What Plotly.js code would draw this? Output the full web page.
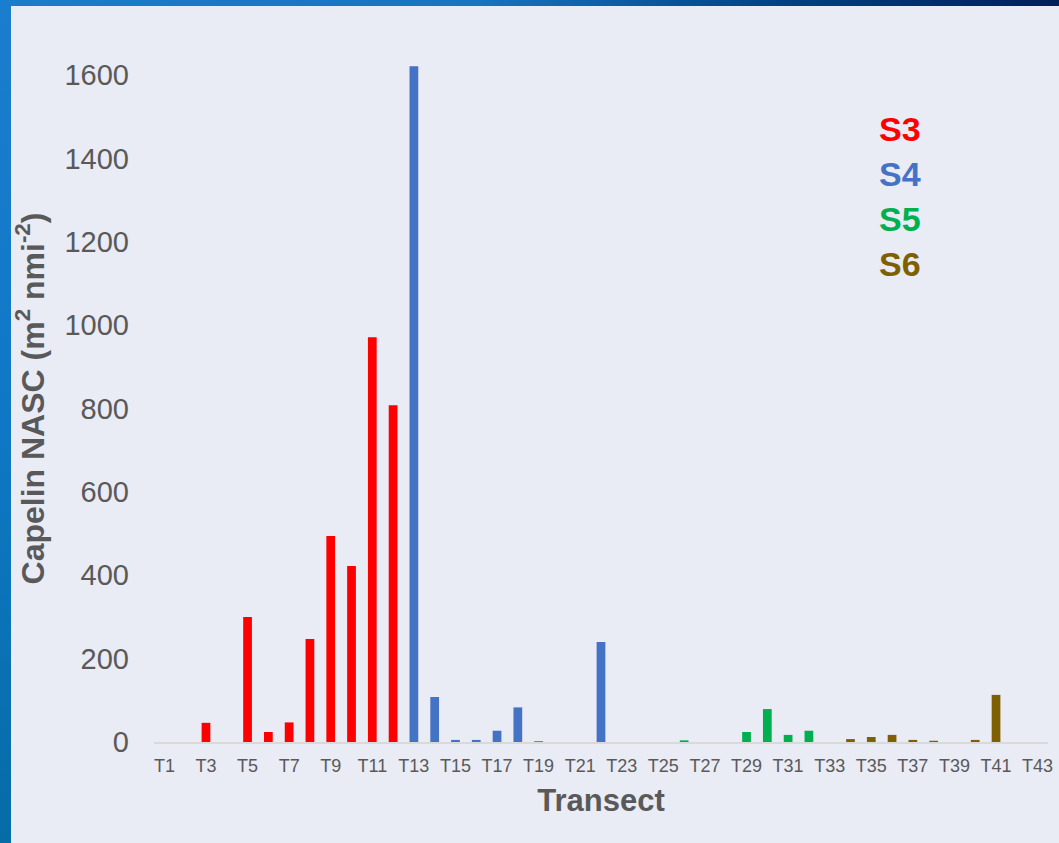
<!DOCTYPE html>
<html>
<head>
<meta charset="utf-8">
<script src="https://cdn.plot.ly/plotly-3.0.1.min.js"></script>
<style>
  html, body { margin: 0; padding: 0; }
  #wrap { position: relative; width: 1059px; height: 843px; background: #E9EBF5; overflow: hidden; }
  #topband { position: absolute; left: 0; top: 0; width: 1059px; height: 6px;
    background: linear-gradient(to right, #1B7CCC 0%, #1674C2 45%, #00407F 75%, #001F5B 100%); }
  #leftband { position: absolute; left: 0; top: 0; width: 11px; height: 843px;
    background: linear-gradient(to bottom, #1B7DCD 0%, #0E78C6 50%, #066CA6 100%); }
  #chart { position: absolute; left: 0; top: 0; width: 1059px; height: 843px; }
</style>
</head>
<body>
<div id="wrap">
  <div id="topband"></div>
  <div id="leftband"></div>
  <div id="chart"></div>
</div>
<script>
// Transect categories
const s3Transects = ["T1","T2","T3","T4","T5","T6","T7","T8","T9","T10","T11","T12"];
const s3Values    = [0, 0, 46, 0, 300, 24, 47, 247, 494, 422, 971, 808];

const s4Transects = ["T13","T14","T15","T16","T17","T18","T19","T20","T21","T22"];
const s4Values    = [1621, 108, 5, 5, 27, 83, 2, 0, 0, 240];

const s5Transects = ["T23","T24","T25","T26","T27","T28","T29","T30","T31","T32"];
const s5Values    = [0, 0, 0, 4, 0, 0, 24, 79, 17, 27];

const s6Transects = ["T33","T34","T35","T36","T37","T38","T39","T40","T41","T42","T43"];
const s6Values    = [0, 7, 12, 17, 5, 3, 0, 5, 113, 0, 0];

const allTransects = s3Transects.concat(s4Transects, s5Transects, s6Transects);
const tickLabels = ["T1","T3","T5","T7","T9","T11","T13","T15","T17","T19","T21","T23","T25","T27","T29","T31","T33","T35","T37","T39","T41","T43"];
const yTicks = [0, 200, 400, 600, 800, 1000, 1200, 1400, 1600];

const seriesNames  = ["S3", "S4", "S5", "S6"];
const seriesColors = ["#FF0000", "#4472C4", "#00B050", "#7F6000"];
const seriesX = [s3Transects, s4Transects, s5Transects, s6Transects];
const seriesY = [s3Values, s4Values, s5Values, s6Values];

const FONT = "Liberation Sans, Arial, sans-serif";

const traces = seriesNames.map((name, i) => ({
  type: "bar",
  name: name,
  x: seriesX[i],
  y: seriesY[i],
  width: 0.42,
  marker: { color: seriesColors[i], line: { width: 0 } },
  showlegend: false,
  hoverinfo: "x+y+name"
}));

const annotations = seriesNames.map((name, i) => ({
  text: "<b>" + name + "</b>",
  xref: "paper", yref: "paper",
  x: 0.834, y: 1 - (74 + 45 * i) / 687,
  xanchor: "center", yanchor: "middle",
  showarrow: false,
  font: { family: FONT, size: 34, color: seriesColors[i] }
}));

const layout = {
  width: 1059, height: 843,
  margin: { l: 153.5, r: 11, t: 55, b: 101, pad: 0 },
  paper_bgcolor: "rgba(0,0,0,0)",
  plot_bgcolor: "rgba(0,0,0,0)",
  barmode: "overlay",
  font: { family: FONT, color: "#595959" },
  xaxis: {
    type: "category",
    categoryorder: "array",
    categoryarray: allTransects,
    range: [-0.5, 42.5],
    tickmode: "array",
    tickvals: tickLabels,
    ticktext: tickLabels,
    tickfont: { family: FONT, size: 18, color: "#595959" },
    ticks: "",
    ticklabelstandoff: 6,
    showgrid: false,
    zeroline: false,
    showline: true,
    linecolor: "#D9D9D9",
    linewidth: 2,
    tickangle: 0,
    automargin: false,
    title: { text: "<b>Transect</b>", font: { family: FONT, size: 31, color: "#595959" }, standoff: 15 }
  },
  yaxis: {
    range: [0, 1648],
    tickmode: "array",
    tickvals: yTicks,
    ticktext: yTicks.map(String),
    tickfont: { family: FONT, size: 29, color: "#595959" },
    ticks: "",
    ticklabelstandoff: 24,
    showgrid: false,
    zeroline: false,
    showline: false,
    automargin: false,
    title: { text: "<b>Capelin NASC (m<sup>2</sup> nmi<sup>-2</sup>)</b>", font: { family: FONT, size: 32, color: "#595959" }, standoff: 10 }
  },
  annotations: annotations
};

Plotly.newPlot("chart", traces, layout, { displayModeBar: false, staticPlot: true });
</script>
</body>
</html>
